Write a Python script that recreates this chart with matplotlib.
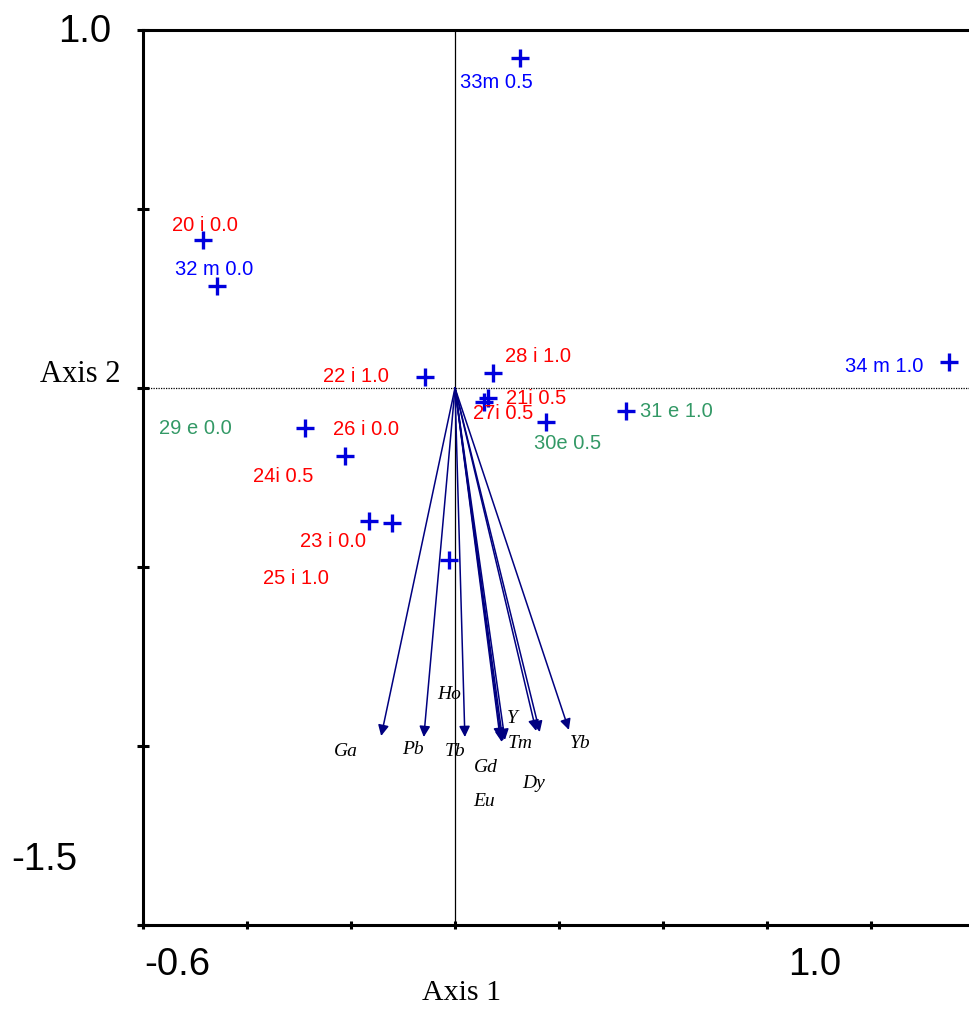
import numpy as np
import matplotlib.pyplot as plt

# sample scores (axis 1, axis 2)
samples = ["33m 0.5", "20 i 0.0", "32 m 0.0", "34 m 1.0", "22 i 1.0",
           "28 i 1.0", "21i 0.5", "27i 0.5", "31 e 1.0", "30e 0.5",
           "29 e 0.0", "26 i 0.0", "24i 0.5", "23 i 0.0", "25 i 1.0"]
samp_x = [0.125, -0.485, -0.458, 0.950, -0.058, 0.073, 0.063, 0.056,
          0.329, 0.175, -0.288, -0.212, -0.165, -0.121, -0.012]
samp_y = [0.922, 0.413, 0.285, 0.073, 0.031, 0.042, -0.028, -0.039,
          -0.064, -0.095, -0.112, -0.190, -0.372, -0.377, -0.480]
# where each sample label sits
lab_x = [0.079, -0.481, -0.463, 0.825, -0.190, 0.160, 0.156, 0.092,
         0.425, 0.217, -0.500, -0.171, -0.331, -0.235, -0.306]
lab_y = [0.852, 0.455, 0.330, 0.059, 0.031, 0.087, -0.028, -0.070,
         -0.067, -0.154, -0.112, -0.117, -0.246, -0.430, -0.531]

# species arrows
species = ["Ga", "Pb", "Tb", "Ho", "Y", "Gd", "Eu", "Tm", "Dy", "Yb"]
spec_x = [-0.142, -0.060, 0.019, 0.087, 0.092, 0.096, 0.090, 0.156, 0.163, 0.219]
spec_y = [-0.972, -0.975, -0.975, -0.980, -0.986, -0.983, -0.989, -0.958, -0.961, -0.955]
spec_lx = [-0.210, -0.081, 0.000, -0.012, 0.110, 0.060, 0.056, 0.125, 0.152, 0.240]
spec_ly = [-1.014, -1.011, -1.014, -0.855, -0.922, -1.059, -1.154, -0.992, -1.106, -0.994]

group_col = {"i": "#ff0000", "m": "#0000ff", "e": "#339966"}

def group_of(name):
    for ch in name:
        if ch in group_col:
            return ch

fig = plt.figure(figsize=(9.69, 10.10), dpi=100)
ax = fig.add_axes([143/969, 85/1010, 832/969, 895/1010])
ax.set_xlim(-0.6, 1.0)
ax.set_ylim(-1.5, 1.0)

for s in ["left", "bottom", "top"]:
    ax.spines[s].set_linewidth(2.2)
ax.spines["right"].set_visible(False)
ax.set_xticks(np.arange(-0.6, 1.01, 0.2))
ax.set_yticks(np.arange(-1.5, 1.01, 0.5))
ax.tick_params(axis="x", direction="inout", length=6, width=2.2)
ax.tick_params(axis="y", direction="inout", length=8, width=2.2)
ax.tick_params(labelbottom=False, labelleft=False)

ax.axhline(0, color="black", lw=0.9, ls=(0, (1, 1)))
ax.axvline(0, color="black", lw=0.9)

for i in range(len(species)):
    ax.annotate("", xy=(spec_x[i], spec_y[i]), xytext=(0, 0),
                arrowprops=dict(arrowstyle="-|>", color="#000080", lw=1.1,
                                mutation_scale=16, shrinkA=0, shrinkB=0))
    ax.text(spec_lx[i], spec_ly[i], species[i], fontsize=14, style="italic",
            family="Liberation Serif", ha="center", va="center")

ax.plot(samp_x, samp_y, ls="none", marker="+", ms=13, mew=2.4, color="#0000dd")
for i in range(len(samples)):
    ax.text(lab_x[i], lab_y[i], samples[i], fontsize=14.5, family="Liberation Sans",
            color=group_col[group_of(samples[i])], ha="center", va="center")

# axis range labels and titles
fig.text(85/969, 1 - 32/1010, "1.0", fontsize=27.5, family="Liberation Sans",
         ha="center", va="center")
fig.text(44/969, 1 - 860/1010, "-1.5", fontsize=27.5, family="Liberation Sans",
         ha="center", va="center")
fig.text(177/969, 1 - 965/1010, "-0.6", fontsize=27.5, family="Liberation Sans",
         ha="center", va="center")
fig.text(815/969, 1 - 965/1010, "1.0", fontsize=27.5, family="Liberation Sans",
         ha="center", va="center")
fig.text(80/969, 1 - 375/1010, "Axis 2", fontsize=22, family="Liberation Serif",
         ha="center", va="center")
fig.text(462/969, 1 - 993/1010, "Axis 1", fontsize=21.5, family="Liberation Serif",
         ha="center", va="center")

fig.savefig("out.png", dpi=100)
